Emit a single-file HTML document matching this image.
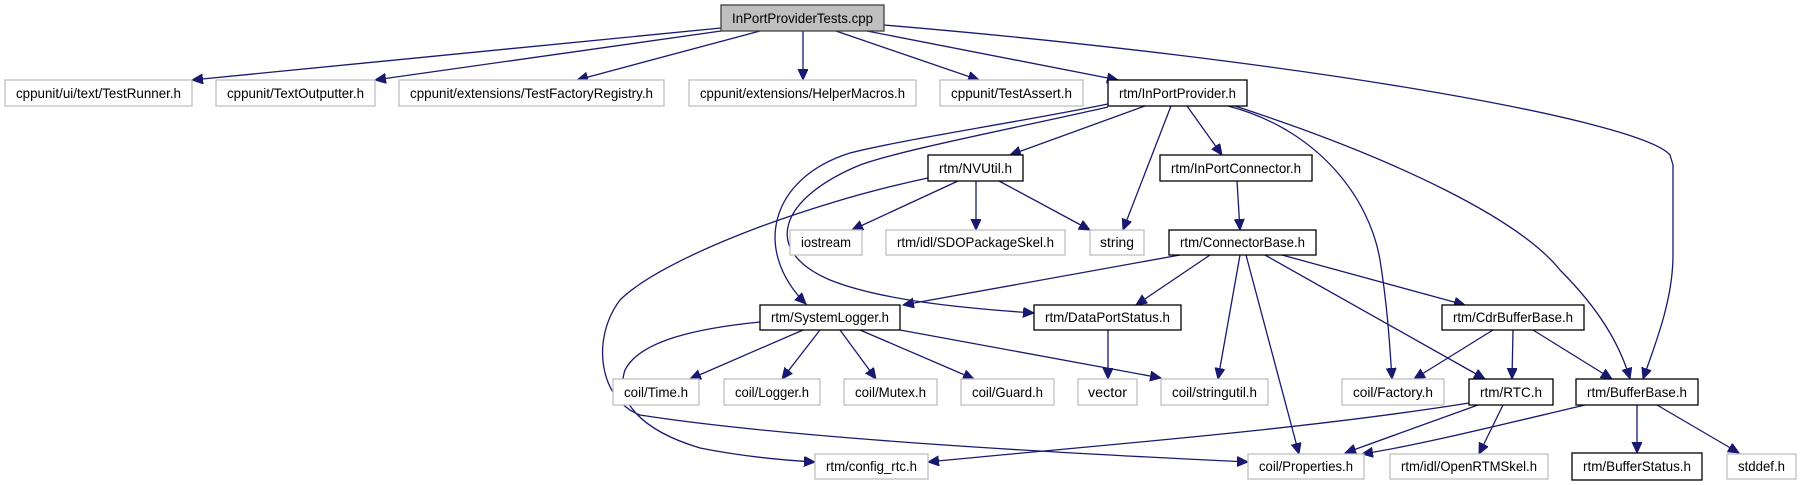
<!DOCTYPE html>
<html><head><meta charset="utf-8"><style>
html,body{margin:0;padding:0;background:#fff;}
svg{display:block;}
text{font-family:"Liberation Sans",sans-serif;font-size:14px;fill:#000;text-anchor:middle;}
.e{fill:none;stroke:#191970;stroke-width:1.3;marker-end:url(#a);}
.g{fill:#fff;stroke:#bfbfbf;stroke-width:1.3;}
.b{fill:#fff;stroke:#000;stroke-width:1.3;}
</style></head><body>
<svg width="1801" height="485" viewBox="0 0 1801 485" xmlns="http://www.w3.org/2000/svg">
<defs><marker id="a" markerUnits="userSpaceOnUse" markerWidth="14" markerHeight="12" refX="11" refY="5" orient="auto"><path d="M0,0 L11,5 L0,10 Z" fill="#191970" stroke="#191970"/></marker></defs>

<!-- edges -->
<path class="e" d="M721,28 L192,80"/>
<path class="e" d="M721,31 L375,80"/>
<path class="e" d="M760,31 L577,80"/>
<path class="e" d="M803,31 L803,80"/>
<path class="e" d="M836,31 L979,80"/>
<path class="e" d="M867,31 L1118,80"/>
<path class="e" d="M884,25 C1300,60 1640,120 1670,155 L1673,165 L1673,255 C1673,300 1655,345 1643,379"/>

<path class="e" d="M1145,106 L1010,155"/>
<path class="e" d="M1171,106 L1123,230"/>
<path class="e" d="M1187,106 L1222,155"/>
<path class="e" d="M1237,181 L1240,230"/>
<path class="e" d="M1108,104 C1020,122 900,140 850,153 C770,178 752,250 806,304"/>
<path class="e" d="M1108,107 C1030,125 900,150 860,165 C780,198 760,250 830,280 C880,300 960,308 1034,313"/>
<path class="e" d="M1228,106 C1320,130 1370,200 1380,260 C1388,310 1390,350 1392,379"/>
<path class="e" d="M1235,106 C1400,160 1520,220 1560,270 C1600,310 1620,345 1630,379"/>

<path class="e" d="M958,181 L852,230"/>
<path class="e" d="M976,181 L976,230"/>
<path class="e" d="M999,181 L1090,230"/>
<path class="e" d="M928,178 C800,205 660,260 620,300 C590,340 600,400 640,415 C800,440 1100,455 1248,462"/>

<path class="e" d="M760,322 C700,328 640,340 625,370 C615,400 640,430 700,448 C740,456 780,460 815,462"/>
<path class="e" d="M803,330 L690,379"/>
<path class="e" d="M820,330 L782,379"/>
<path class="e" d="M840,330 L876,379"/>
<path class="e" d="M860,330 L974,379"/>
<path class="e" d="M900,330 L1161,378"/>
<path class="e" d="M1108,330 L1108,379"/>

<path class="e" d="M1180,255 L903,305"/>
<path class="e" d="M1210,255 L1136,305"/>
<path class="e" d="M1240,255 L1218,379"/>
<path class="e" d="M1246,255 L1299,454"/>
<path class="e" d="M1265,255 L1485,379"/>
<path class="e" d="M1282,255 L1465,305"/>

<path class="e" d="M1493,330 L1414,379"/>
<path class="e" d="M1513,330 L1512,379"/>
<path class="e" d="M1533,330 L1612,379"/>

<path class="e" d="M1469,403 C1300,430 1100,445 928,462"/>
<path class="e" d="M1478,405 L1345,453"/>
<path class="e" d="M1503,405 L1479,454"/>

<path class="e" d="M1585,405 C1500,425 1420,445 1362,454"/>
<path class="e" d="M1637,405 L1637,453"/>
<path class="e" d="M1657,405 L1739,453"/>

<!-- nodes -->
<rect x="721" y="5" width="163" height="26" fill="#bfbfbf" stroke="#404040" stroke-width="1.3"/>
<text x="802.5" y="23" textLength="141" lengthAdjust="spacingAndGlyphs">InPortProviderTests.cpp</text>

<rect class="g" x="5" y="80" width="187" height="26"/><text x="98.5" y="98" textLength="165" lengthAdjust="spacingAndGlyphs">cppunit/ui/text/TestRunner.h</text>
<rect class="g" x="216" y="80" width="159" height="26"/><text x="295.5" y="98" textLength="137" lengthAdjust="spacingAndGlyphs">cppunit/TextOutputter.h</text>
<rect class="g" x="399" y="80" width="265" height="26"/><text x="531.5" y="98" textLength="243" lengthAdjust="spacingAndGlyphs">cppunit/extensions/TestFactoryRegistry.h</text>
<rect class="g" x="689" y="80" width="227" height="26"/><text x="802.5" y="98" textLength="205" lengthAdjust="spacingAndGlyphs">cppunit/extensions/HelperMacros.h</text>
<rect class="g" x="940" y="80" width="143" height="26"/><text x="1011.5" y="98" textLength="121" lengthAdjust="spacingAndGlyphs">cppunit/TestAssert.h</text>
<rect class="b" x="1108" y="80" width="139" height="26"/><text x="1177.5" y="98" textLength="117" lengthAdjust="spacingAndGlyphs">rtm/InPortProvider.h</text>

<rect class="b" x="928" y="155" width="95" height="26"/><text x="975.5" y="173" textLength="73" lengthAdjust="spacingAndGlyphs">rtm/NVUtil.h</text>
<rect class="b" x="1160" y="155" width="152" height="26"/><text x="1236" y="173" textLength="130" lengthAdjust="spacingAndGlyphs">rtm/InPortConnector.h</text>

<rect class="g" x="790" y="230" width="72" height="25"/><text x="826" y="247" textLength="50" lengthAdjust="spacingAndGlyphs">iostream</text>
<rect class="g" x="886" y="230" width="179" height="25"/><text x="975.5" y="247" textLength="157" lengthAdjust="spacingAndGlyphs">rtm/idl/SDOPackageSkel.h</text>
<rect class="g" x="1090" y="230" width="54" height="25"/><text x="1117" y="247" textLength="34" lengthAdjust="spacingAndGlyphs">string</text>
<rect class="b" x="1169" y="230" width="147" height="25"/><text x="1242.5" y="247" textLength="125" lengthAdjust="spacingAndGlyphs">rtm/ConnectorBase.h</text>

<rect class="b" x="760" y="305" width="140" height="25"/><text x="830" y="322" textLength="118" lengthAdjust="spacingAndGlyphs">rtm/SystemLogger.h</text>
<rect class="b" x="1034" y="305" width="147" height="25"/><text x="1107.5" y="322" textLength="125" lengthAdjust="spacingAndGlyphs">rtm/DataPortStatus.h</text>
<rect class="b" x="1442" y="305" width="142" height="25"/><text x="1513" y="322" textLength="120" lengthAdjust="spacingAndGlyphs">rtm/CdrBufferBase.h</text>

<rect class="g" x="613" y="379" width="86" height="26"/><text x="656" y="397" textLength="64" lengthAdjust="spacingAndGlyphs">coil/Time.h</text>
<rect class="g" x="724" y="379" width="96" height="26"/><text x="772" y="397" textLength="74" lengthAdjust="spacingAndGlyphs">coil/Logger.h</text>
<rect class="g" x="844" y="379" width="93" height="26"/><text x="890.5" y="397" textLength="71" lengthAdjust="spacingAndGlyphs">coil/Mutex.h</text>
<rect class="g" x="961" y="379" width="93" height="26"/><text x="1007.5" y="397" textLength="71" lengthAdjust="spacingAndGlyphs">coil/Guard.h</text>
<rect class="g" x="1078" y="379" width="59" height="26"/><text x="1107.5" y="397" textLength="39" lengthAdjust="spacingAndGlyphs">vector</text>
<rect class="g" x="1161" y="379" width="107" height="26"/><text x="1214.5" y="397" textLength="85" lengthAdjust="spacingAndGlyphs">coil/stringutil.h</text>
<rect class="g" x="1342" y="379" width="102" height="26"/><text x="1393" y="397" textLength="80" lengthAdjust="spacingAndGlyphs">coil/Factory.h</text>
<rect class="b" x="1469" y="379" width="84" height="26"/><text x="1511" y="397" textLength="62" lengthAdjust="spacingAndGlyphs">rtm/RTC.h</text>
<rect class="b" x="1576" y="379" width="122" height="26"/><text x="1637" y="397" textLength="100" lengthAdjust="spacingAndGlyphs">rtm/BufferBase.h</text>

<rect class="g" x="815" y="454" width="113" height="25"/><text x="871.5" y="471" textLength="91" lengthAdjust="spacingAndGlyphs">rtm/config_rtc.h</text>
<rect class="g" x="1248" y="454" width="116" height="25"/><text x="1306" y="471" textLength="94" lengthAdjust="spacingAndGlyphs">coil/Properties.h</text>
<rect class="g" x="1390" y="454" width="158" height="25"/><text x="1469" y="471" textLength="136" lengthAdjust="spacingAndGlyphs">rtm/idl/OpenRTMSkel.h</text>
<rect class="b" x="1572" y="453" width="130" height="27"/><text x="1637" y="471" textLength="108" lengthAdjust="spacingAndGlyphs">rtm/BufferStatus.h</text>
<rect class="g" x="1727" y="454" width="69" height="25"/><text x="1761.5" y="471" textLength="47" lengthAdjust="spacingAndGlyphs">stddef.h</text>
</svg>
</body></html>
